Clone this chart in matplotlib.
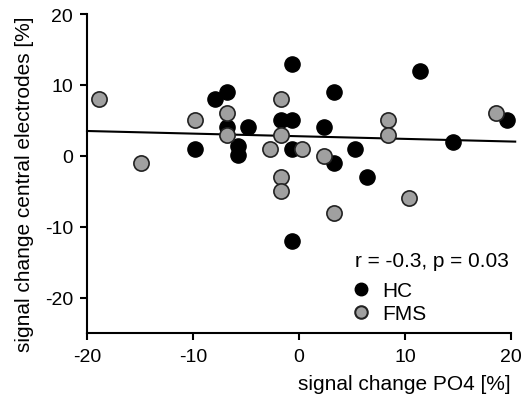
import matplotlib
matplotlib.use("Agg")
import matplotlib.pyplot as plt
from matplotlib.lines import Line2D

plt.rcParams['font.family'] = ['Liberation Sans', 'DejaVu Sans']
plt.rcParams['axes.unicode_minus'] = False

# HC group (black)
hc_x = [-0.7, 11.4, -6.8, -7.9, 3.3, -1.7, -0.7, -6.8, -4.8, 2.4,
        19.6, -9.8, -5.8, -5.8, -0.7, 5.3, 14.5, 3.3, 6.4, -0.7]
hc_y = [13.0, 12.0, 9.0, 8.0, 9.0, 5.0, 5.0, 4.0, 4.0, 4.0,
        5.0, 1.0, 1.4, 0.1, 1.0, 1.0, 2.0, -1.0, -3.0, -12.0]

# FMS group (grey)
fms_x = [-18.9, -14.9, -9.8, -6.8, -6.8, -1.7, -1.7, -2.7, 0.3, -1.7,
         -1.7, 2.4, 8.4, 8.4, 18.6, 10.4, 3.3]
fms_y = [8.0, -1.0, 5.0, 6.0, 3.0, 8.0, 3.0, 1.0, 1.0, -3.0,
         -5.0, 0.0, 5.0, 3.0, 6.0, -6.0, -8.0]

# regression line end points
fit_x = [-20, 20.4]
fit_y = [3.5, 2.0]

stats_text = "r = -0.3, p = 0.03"

fig = plt.figure(figsize=(5.26, 4.06), dpi=100)
ax = fig.add_axes([0.1654, 0.1773, 0.806, 0.7857])

ax.plot(fit_x, fit_y, color='black', lw=1.5, clip_on=False, zorder=2)
ax.scatter(hc_x, hc_y, s=120, c='black', edgecolors='black', linewidths=1,
           clip_on=False, zorder=3)
ax.scatter(fms_x, fms_y, s=120, c='#a0a0a0', edgecolors='#222222', linewidths=1.2,
           clip_on=False, zorder=4)

ax.set_xlim(-20, 20)
ax.set_ylim(-25, 20)
ax.set_xticks([-20, -10, 0, 10, 20])
ax.set_yticks([-20, -10, 0, 10, 20])
ax.spines['top'].set_visible(False)
ax.spines['right'].set_visible(False)
for s in ['left', 'bottom']:
    ax.spines[s].set_linewidth(1.5)
ax.tick_params(width=1.5, length=5, labelsize=14)
ax.tick_params(axis='x', pad=6)
ax.tick_params(axis='y', pad=5)

ax.set_xlabel("signal change PO4 [%]", fontsize=15, loc='right', labelpad=6)
ax.set_ylabel("signal change central electrodes [%]", fontsize=15)
ax.yaxis.set_label_coords(-0.125, 0.47)

ax.text(0.632, 0.226, stats_text, transform=ax.transAxes, fontsize=15,
        ha='left', va='center')

handles = [Line2D([], [], ls='', marker='o', ms=9, mfc='black', mec='black'),
           Line2D([], [], ls='', marker='o', ms=9, mfc='#a0a0a0', mec='#222222',
                  mew=1.5)]
leg = ax.legend(handles, ['HC', 'FMS'], loc='lower left',
                frameon=False, fontsize=15,
                handletextpad=0.6, handlelength=0.8, labelspacing=0.2,
                borderpad=0.0, borderaxespad=0.0,
                bbox_to_anchor=(0.627, 0.03))

fig.savefig("out.png", dpi=100)
